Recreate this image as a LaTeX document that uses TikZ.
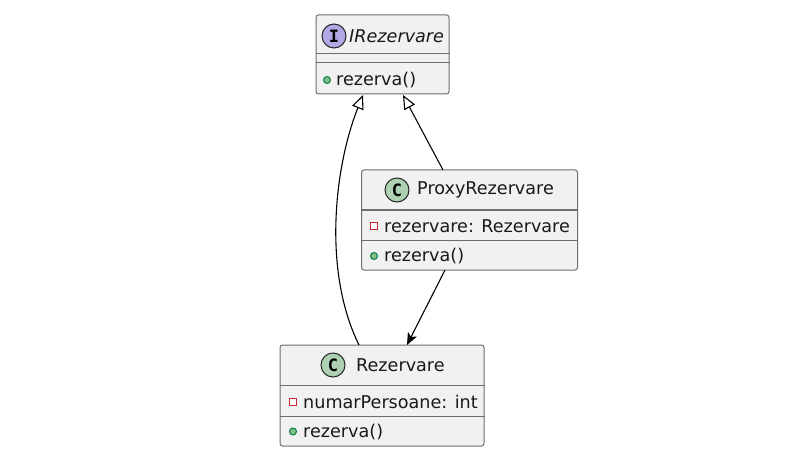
\documentclass[tikz,border=0pt]{standalone}
\usepackage{fontspec}
\setmainfont{DejaVu Sans}
\newfontfamily\badgefont{DejaVu Sans Mono}
\usetikzlibrary{arrows.meta, positioning}
\definecolor{boxfill}{HTML}{F1F1F1}
\definecolor{boxline}{HTML}{6E6E6E}
\definecolor{ifacebadge}{HTML}{B4A7E5}
\definecolor{classbadge}{HTML}{ADD1B2}
\definecolor{privred}{HTML}{C82930}
\definecolor{pubgreen}{HTML}{038048}
\definecolor{publight}{HTML}{84BE84}
\tikzstyle{classbox} = [
    rectangle,
    rounded corners=2.5pt,
    draw=boxline,
    fill=boxfill,
    line width=1pt,
    inner sep=0pt
]
\tikzstyle{badge} = [
    circle,
    draw=black!85,
    line width=1pt,
    minimum size=24pt,
    inner sep=0pt,
    font=\badgefont\bfseries\fontsize{17}{17}\selectfont
]
\tikzstyle{title} = [anchor=west, inner sep=0pt, text=black!90, font=\fontsize{17.6}{20}\selectfont]
\tikzstyle{member} = [anchor=west, inner sep=0pt, text=black!90, font=\fontsize{17.6}{20}\selectfont]
\tikzstyle{private} = [rectangle, draw=privred, fill=white, line width=1pt, minimum size=7pt, inner sep=0pt]
\tikzstyle{public} = [circle, draw=pubgreen, fill=publight, line width=1pt, minimum size=7pt, inner sep=0pt]
\tikzstyle{sepline} = [draw=boxline, line width=1pt]
\tikzstyle{realize} = [line width=1.1pt, -{Triangle[open, length=14pt, width=12pt]}]
\tikzstyle{arrow} = [line width=1.1pt, -{Stealth[length=12pt, width=10pt, inset=3pt]}]

\begin{document}
\begin{tikzpicture}[x=1pt, y=-1pt]
\useasboundingbox [fill=white] (0,0) rectangle (799,470);

% IRezervare
\node (irez) [classbox, minimum width=133pt, minimum height=79pt] at (382.5,54.5) {};
\node (irezbadge) [badge, fill=ifacebadge] at (334,36) {I};
\node (ireztitle) [title, font=\itshape\fontsize{17.6}{20}\selectfont] at (349,36) {IRezervare};
\draw [sepline] (irez.west |- 0,54) -- (irez.east |- 0,54);
\draw [sepline] (irez.west |- 0,63) -- (irez.east |- 0,63);
\node (irezm) [public] at (327,80) {};
\node [member, right=5pt of irezm] {rezerva()};

% ProxyRezervare
\node (proxy) [classbox, minimum width=216pt, minimum height=100pt] at (469.5,220) {};
\node (proxybadge) [badge, fill=classbadge] at (397,190) {C};
\node (proxytitle) [title] at (417,190) {ProxyRezervare};
\draw [sepline] (proxy.west |- 0,210) -- (proxy.east |- 0,210);
\draw [sepline] (proxy.west |- 0,240) -- (proxy.east |- 0,240);
\node (proxya) [private] at (374,226) {};
\node [member, right=6pt of proxya] {rezervare: Rezervare};
\node (proxym) [public] at (374,256) {};
\node [member, right=6pt of proxym] {rezerva()};

% Rezervare
\node (rez) [classbox, minimum width=204pt, minimum height=101pt] at (382,395.5) {};
\node (rezbadge) [badge, fill=classbadge] at (333,365) {C};
\node (reztitle) [title] at (356,365) {Rezervare};
\draw [sepline] (rez.west |- 0,385) -- (rez.east |- 0,385);
\draw [sepline] (rez.west |- 0,416) -- (rez.east |- 0,416);
\node (reza) [private] at (293,401.5) {};
\node [member, right=6pt of reza] {numarPersoane: int};
\node (rezm) [public] at (293,431.5) {};
\node [member, right=6pt of rezm] {rezerva()};

% Arrows
\coordinate (irezl) at (363,95);
\coordinate (irezr) at (403,95);
\coordinate (proxyt) at (443,170);
\coordinate (proxyb) at (445,270);
\coordinate (rezl) at (359,345);
\coordinate (rezr) at (407,345);
\draw [realize] (rezl) .. controls (322,270) and (335,165) .. (irezl);
\draw [realize] (proxyt) -- (irezr);
\draw [arrow] (proxyb) -- (rezr);

\end{tikzpicture}
\end{document}
